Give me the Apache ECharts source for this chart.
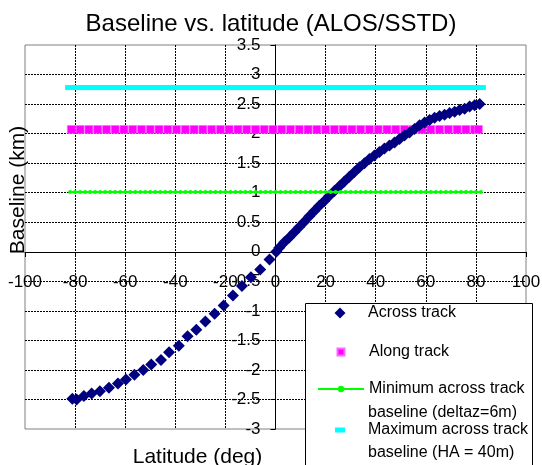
<!DOCTYPE html>
<html>
<head>
<meta charset="utf-8">
<script src="https://cdn.jsdelivr.net/npm/echarts@6/dist/echarts.min.js"></script>
<style>
html,body{margin:0;padding:0;background:#fff;}
#chart{width:542px;height:465px;}
</style>
</head>
<body>
<div id="chart"></div>
<script>
// across track baseline
var acrossLat = [-81.1, -79.4, -76.5, -73.4, -70.1, -66.5, -62.9, -59.7, -56.3, -52.8,
    -49.6, -45.7, -42.5, -38.6, -35.1, -31.6, -28.0, -24.3, -20.7, -17.0,
    -13.4, -9.8, -6.1, -2.4, 0.3,
    1.5, 3.5, 5.5, 7.5, 9.5, 11.5, 13.5, 15.5, 17.5, 19.5,
    21.5, 23.5, 25.5, 27.5, 29.5, 31.5, 33.5, 35.5, 37.5, 39.5,
    41.5, 43.5, 45.5, 47.5, 49.5, 51.5, 53.5, 55.5, 57.5, 59.5,
    61.5, 63.5, 65.5, 67.5, 69.5, 71.5, 73.5, 75.5, 77.5, 79.5, 81.5];
var acrossVal = [-2.49, -2.50, -2.44, -2.40, -2.36, -2.30, -2.23, -2.16, -2.08, -2.00,
    -1.91, -1.83, -1.70, -1.59, -1.43, -1.32, -1.18, -1.05, -0.91, -0.74,
    -0.58, -0.43, -0.30, -0.13, 0.00,
    0.07, 0.16, 0.24, 0.33, 0.42, 0.51, 0.60, 0.69, 0.78, 0.86,
    0.95, 1.03, 1.11, 1.19, 1.27, 1.35, 1.43, 1.50, 1.57, 1.63,
    1.69, 1.75, 1.80, 1.85, 1.91, 1.97, 2.02, 2.08, 2.14, 2.19,
    2.23, 2.27, 2.30, 2.32, 2.35, 2.37, 2.40, 2.42, 2.46, 2.48, 2.50];

// along track
var alongLat = [-81.5, -78, -74.5, -71, -67.5, -64, -60.5, -57, -53.5, -50,
    -46.5, -43, -39.5, -36, -32.5, -29, -25.5, -22, -18.5, -15,
    -11.5, -8, -4.5, -1, 2.5, 6, 9.5, 13, 16.5, 20,
    23.5, 27, 30.5, 34, 37.5, 41, 44.5, 48, 51.5, 55,
    58.5, 62, 65.5, 69, 72.5, 76, 79.5, 81];
var alongVal = 2.07;

// min / max across track baseline
var refLat = [-82, -80, -78, -76, -74, -72, -70, -68, -66, -64, -62, -60, -58, -56, -54,
    -52, -50, -48, -46, -44, -42, -40, -38, -36, -34, -32, -30, -28, -26, -24,
    -22, -20, -18, -16, -14, -12, -10, -8, -6, -4, -2, 0, 2, 4, 6,
    8, 10, 12, 14, 16, 18, 20, 22, 24, 26, 28, 30, 32, 34, 36,
    38, 40, 42, 44, 46, 48, 50, 52, 54, 56, 58, 60, 62, 64, 66,
    68, 70, 72, 74, 76, 78, 80, 82];
var minBase = 1.01;
var maxBase = 2.78;

var names = ['Across track', 'Along track', 'Minimum across track', 'Maximum across track'];
var names2 = ['', '', 'baseline (deltaz=6m)', 'baseline (HA = 40m)'];

var FONT = '"Liberation Sans", Arial, sans-serif';
var LEG_FS = 16;

function pairs(xs, ys) {
    var out = [];
    for (var i = 0; i < xs.length; i++) {
        out.push([xs[i], Array.isArray(ys) ? ys[i] : ys]);
    }
    return out;
}

// one legend per entry, text always starts at x=368
function legendItem(idx, top, icon, w, h) {
    var left = 340 - w / 2;
    var lg = {
        data: [names[idx]],
        left: left,
        top: top,
        padding: 0,
        itemWidth: w,
        itemHeight: h,
        selectedMode: false,
        z: 5,
        textStyle: {
            fontFamily: FONT,
            fontSize: LEG_FS,
            color: '#000',
            padding: [0, 0, 0, 368 - (left + w + 5)]
        }
    };
    if (icon) lg.icon = icon;
    return lg;
}

var myChart = echarts.init(document.getElementById('chart'));

var option = {
    animation: false,
    backgroundColor: '#fff',
    title: {
        text: 'Baseline vs. latitude (ALOS/SSTD)',
        left: 'center',
        top: 12,
        padding: 0,
        textStyle: {
            fontFamily: FONT,
            fontSize: 24,
            fontWeight: 'normal',
            color: '#000'
        }
    },
    grid: {
        left: 25,
        right: 16,
        top: 45,
        bottom: 36,
        containLabel: false,
        outerBoundsMode: 'none',
        show: true,
        borderColor: '#808080',
        borderWidth: 1,
        backgroundColor: '#fff'
    },
    xAxis: {
        type: 'value',
        min: -100,
        max: 100,
        interval: 20,
        position: 'bottom',
        offset: -177,   // moves the axis up to y = 0
        name: 'Latitude (deg)',
        nameLocation: 'middle',
        nameGap: 195,
        nameTextStyle: {
            fontFamily: FONT,
            fontSize: 21,
            color: '#000',
            padding: [0, 156, 0, 0]
        },
        axisLine: { onZero: false, lineStyle: { color: '#000', width: 1 } },
        axisTick: { show: true, length: 5, lineStyle: { color: '#000' } },
        axisLabel: { margin: 22, fontFamily: FONT, fontSize: 17, color: '#000' },
        splitLine: {
            show: true,
            showMinLine: false,
            showMaxLine: false,
            lineStyle: { color: '#000', type: [2, 1], width: 1 }
        }
    },
    yAxis: {
        type: 'value',
        min: -3,
        max: 3.5,
        interval: 0.5,
        position: 'left',
        offset: -250.5, // moves the axis right to x = 0
        name: 'Baseline (km)',
        nameLocation: 'middle',
        nameGap: 247,
        nameTextStyle: {
            fontFamily: FONT,
            fontSize: 21,
            color: '#000',
            padding: [0, 0, 0, 94]
        },
        axisLine: { onZero: false, lineStyle: { color: '#000', width: 1 } },
        axisTick: { show: true, length: 5, lineStyle: { color: '#000' } },
        axisLabel: { margin: 15, fontFamily: FONT, fontSize: 17, color: '#000' },
        splitLine: {
            show: true,
            showMinLine: false,
            showMaxLine: false,
            lineStyle: { color: '#000', type: [2, 1], width: 1 }
        }
    },
    legend: [
        legendItem(0, 305, 'diamond', 11, 11),
        legendItem(1, 344, 'rect', 7, 7),
        legendItem(2, 381, null, 46, 8),
        legendItem(3, 422, 'rect', 10, 5)
    ],
    graphic: [{
        type: 'rect',
        z: 3,
        shape: { x: 305.5, y: 303.5, width: 227, height: 200 },
        style: { fill: '#fff', stroke: '#000', lineWidth: 1 }
    }, {
        type: 'text',
        z: 5,
        x: 368,
        y: 413,
        style: { text: names2[2], font: LEG_FS + 'px ' + FONT, fill: '#000', verticalAlign: 'middle' }
    }, {
        type: 'text',
        z: 5,
        x: 368,
        y: 453,
        style: { text: names2[3], font: LEG_FS + 'px ' + FONT, fill: '#000', verticalAlign: 'middle' }
    }],
    series: [
        {
            name: names[1],
            type: 'scatter',
            symbol: 'rect',
            symbolSize: 8,
            itemStyle: { color: '#FF00FF', borderColor: '#FF66FF', borderWidth: 0.6, opacity: 1 },
            data: pairs(alongLat, alongVal)
        },
        {
            name: names[0],
            type: 'scatter',
            symbol: 'diamond',
            symbolSize: 12,
            itemStyle: { color: '#000080', opacity: 1 },
            data: pairs(acrossLat, acrossVal)
        },
        {
            name: names[2],
            type: 'line',
            symbol: 'circle',
            symbolSize: 4,
            showSymbol: true,
            itemStyle: { color: '#00FF00' },
            lineStyle: { color: '#00FF00', width: 2 },
            data: pairs(refLat, minBase)
        },
        {
            name: names[3],
            type: 'scatter',
            symbol: 'rect',
            symbolSize: [10, 5],
            itemStyle: { color: '#00FFFF', opacity: 1 },
            data: pairs(refLat, maxBase)
        }
    ]
};

myChart.setOption(option);
</script>
</body>
</html>
